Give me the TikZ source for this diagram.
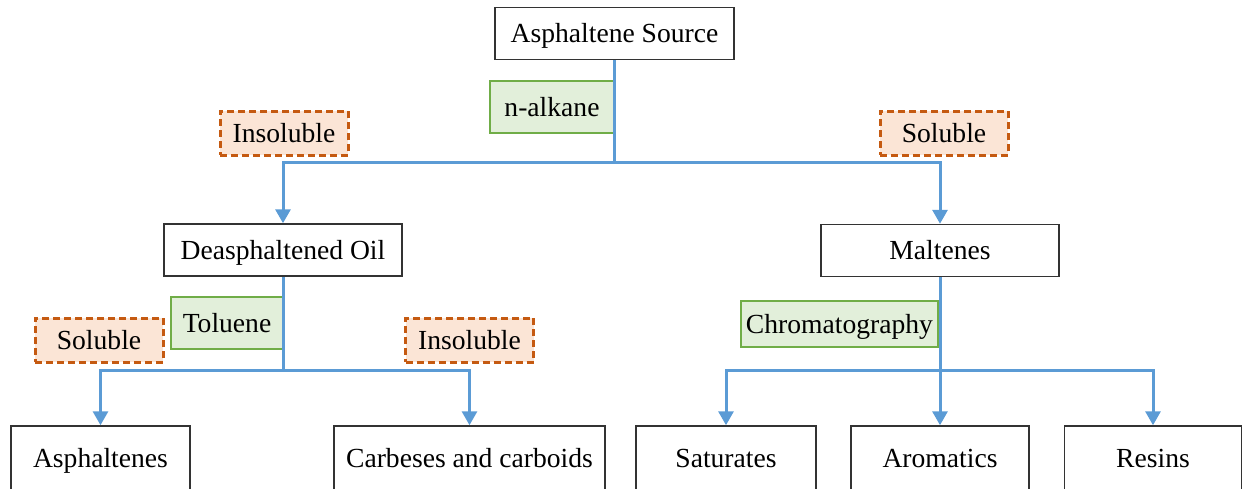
\documentclass[tikz,border=0pt]{standalone}
\usepackage{fontspec}
\setmainfont{Liberation Serif}
\usetikzlibrary{arrows.meta}
\definecolor{linkblue}{HTML}{5B9BD5}
\definecolor{solvfill}{HTML}{E2EFDA}
\definecolor{solvdraw}{HTML}{70AD47}
\definecolor{phasefill}{HTML}{FBE5D6}
\definecolor{phasedraw}{HTML}{C55A11}
\begin{document}
\begin{tikzpicture}[x=0.5pt,y=-0.5pt,>={Triangle[width=7.5pt,length=7pt]},
	every node/.style={font=\fontsize{13.8}{16}\selectfont,inner sep=0pt,text height=12pt,text depth=3pt},
	box/.style={draw=black!80,line width=0.75pt,fill=white,minimum height=26pt},
	solvent/.style={draw=solvdraw,fill=solvfill,line width=0.75pt,minimum height=26pt},
	phase/.style={draw=phasedraw,fill=phasefill,line width=1.5pt,dash pattern=on 3.5pt off 2pt,minimum width=64pt,minimum height=22pt},
	link/.style={draw=linkblue,line width=1.5pt}]
	\clip (0,0) rectangle (1243,488);
	% source and first split
	\node[box,minimum width=119.5pt] (src) at (614.5,33.5) {Asphaltene Source};
	\node[solvent,minimum width=62pt] (alkane) at (552,107) {n-alkane};
	\node[phase] (insolA) at (284,133) {Insoluble};
	\node[phase] (solA) at (944,133) {Soluble};
	\node[box,minimum width=119pt] (deoil) at (283,250) {Deasphaltened Oil};
	\node[box,minimum width=119pt] (malt) at (940,250.5) {Maltenes};
	% left branch
	\node[solvent,minimum width=56pt] (tol) at (227,323) {Toluene};
	\node[phase] (solB) at (99,340) {Soluble};
	\node[phase] (insolB) at (469.5,340) {Insoluble};
	\node[box,minimum width=89.5pt,minimum height=32pt] (asph) at (100.5,458) {Asphaltenes};
	\node[box,minimum width=135.5pt,minimum height=32pt] (carb) at (469.5,458) {Carbeses and carboids};
	% right branch
	\node[solvent,minimum width=98.5pt,minimum height=23pt] (chrom) at (839.5,324) {Chromatography};
	\node[box,minimum width=90pt,minimum height=32pt] (sat) at (726,458) {Saturates};
	\node[box,minimum width=89pt,minimum height=32pt] (aro) at (940,458) {Aromatics};
	\node[box,minimum width=88.5pt,minimum height=32pt] (res) at (1153,458) {Resins};
	% connectors
	\coordinate (j1) at (614.5,162);
	\coordinate (j2) at (283,370);
	\coordinate (j3) at (940,370);
	\draw[link] (src.south) -- (j1);
	\draw[link,->] (j1) -| (deoil.north);
	\draw[link,->] (j1) -| (malt.north);
	\draw[link] (deoil.south) -- (j2);
	\draw[link,->] (j2) -| (asph.north);
	\draw[link,->] (j2) -| (carb.north);
	\draw[link,->] (malt.south) -- (aro.north);
	\draw[link,->] (j3) -| (sat.north);
	\draw[link,->] (j3) -| (res.north);
\end{tikzpicture}
\end{document}
